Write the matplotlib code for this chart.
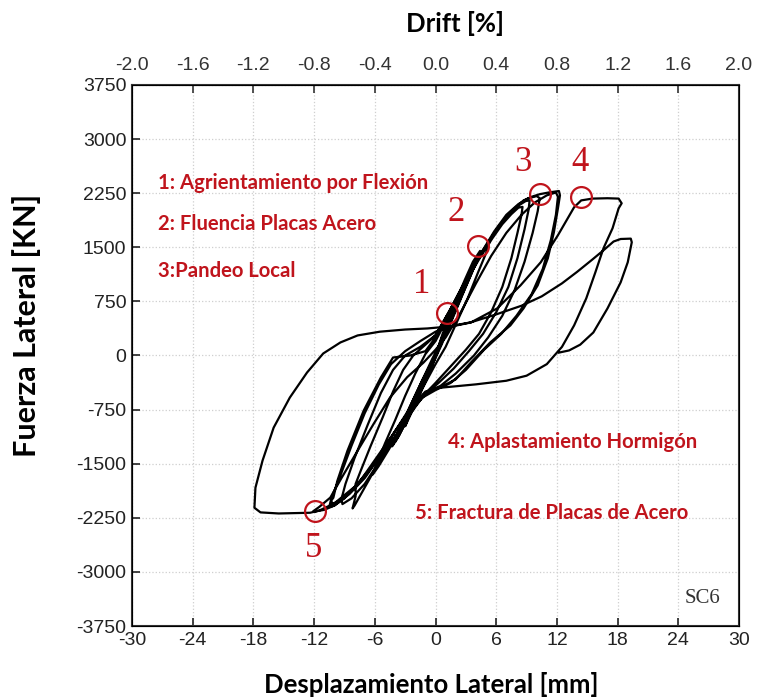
import numpy as np
import matplotlib
matplotlib.use("Agg")
import matplotlib.pyplot as plt

plt.rcParams["axes.unicode_minus"] = False

# ---- data: lateral displacement [mm], lateral force [kN] ----
# small elastic cycles (the thick central band)
cycles_small = [
    (0, 0), (0.5, 190), (1.0, 380), (0.5, 180), (0, 20), (-0.5, -150), (-1.0, -330),
    (-0.5, -160), (0, -20), (1.0, 360), (2.0, 720), (1.4, 500), (0.5, 200), (-0.5, -170),
    (-1.0, -350), (-2.0, -680), (-1.4, -470), (-0.5, -190), (0.5, 180), (1.5, 540),
    (2.2, 780), (3.0, 1050), (2.4, 830), (1.5, 520), (0.5, 170), (-0.5, -200),
    (-1.5, -520), (-2.2, -740), (-3.0, -980), (-2.4, -760), (-1.4, -460), (-0.4, -140),
    (0.6, 220), (1.6, 560), (2.8, 960), (3.6, 1220), (4.0, 1340), (3.4, 1120),
    (2.5, 820), (1.4, 450), (0.3, 90), (-0.8, -260), (-2.0, -640), (-3.0, -940),
    (-3.6, -1110), (-4.0, -1200), (-3.4, -1000), (-2.4, -700), (-1.3, -360), (0, -20),
    (0.8, 260), (1.9, 640), (3.0, 1010), (3.8, 1270), (4.2, 1380), (3.6, 1150),
    (2.6, 830), (1.5, 470), (0.4, 110), (-0.7, -240), (-1.9, -620), (-3.1, -950),
    (-3.8, -1140), (-4.2, -1240), (-3.5, -1010), (-2.5, -700), (-1.3, -340), (0, 0),
    (0.7, 300), (1.8, 680), (2.9, 1050), (3.7, 1300), (4.4, 1450), (3.9, 1250),
    (2.9, 920), (1.7, 520), (0.6, 150), (-0.6, -220), (-1.8, -600), (-2.9, -920),
    (-3.7, -1130), (-4.3, -1260), (-3.7, -1060), (-2.7, -760), (-1.5, -400), (-0.3, -40),
]
# cycles to about +-6 mm, +-8 mm and +-9 mm
cycles_mid = [
    (0.5, 180), (1.8, 620), (3.0, 1000), (4.2, 1330), (5.0, 1500), (5.3, 1560),
    (5.0, 1420), (4.2, 1150), (3.2, 800), (2.0, 430), (1.0, 120), (0, -120),
    (-1.0, -380), (-2.2, -700), (-3.4, -1000), (-4.6, -1300), (-5.6, -1530),
    (-6.2, -1650), (-5.8, -1500), (-5.0, -1220), (-4.0, -900), (-3.0, -560),
    (-2.0, -250), (-1.0, 20), (0, 200), (1.5, 600), (3.0, 1020), (4.5, 1380),
    (5.6, 1620), (6.6, 1820), (7.5, 1960), (8.2, 2050), (8.6, 2060), (8.5, 1950),
    (8.1, 1700), (7.5, 1350), (6.6, 950), (5.5, 600), (4.3, 300), (3.0, 80),
    (1.5, -150), (0, -380), (-1.5, -600), (-3.0, -900), (-4.5, -1250), (-6.0, -1580),
    (-7.2, -1880), (-8.0, -2080), (-8.2, -2120), (-7.9, -1950), (-7.9, -1780),
    (-7.4, -1600), (-6.4, -1250), (-5.2, -850), (-4.2, -500), (-3.2, -200),
    (-2.2, 0), (-1.0, 150), (0, 280),
    (1.5, 640), (3.0, 1030), (4.5, 1400), (5.8, 1700), (7.0, 1920), (8.0, 2060),
    (8.9, 2140), (9.3, 2150), (9.2, 2020), (8.8, 1750), (8.1, 1350), (7.2, 950),
    (6.0, 600), (4.7, 300), (3.3, 60), (1.8, -180), (0.3, -380), (-1.2, -560),
    (-2.7, -850), (-4.2, -1180), (-5.7, -1500), (-7.0, -1780), (-8.3, -1980),
    (-9.2, -2060), (-9.3, -1990), (-8.9, -1780), (-8.0, -1420), (-6.7, -960),
    (-5.4, -520), (-4.2, -200), (-3.0, 0), (-1.5, 120), (0, 280),
]
# cycles to about +-10 mm and +-12 mm
cycles_large = [
    (1.5, 650), (3.0, 1050), (4.5, 1420), (5.8, 1720), (7.0, 1950), (8.2, 2100),
    (9.2, 2180), (10.0, 2210), (10.3, 2180), (10.1, 2000), (9.6, 1700), (8.8, 1300),
    (7.8, 900), (6.6, 550), (5.2, 250), (3.8, 0), (2.0, -250), (0.5, -420),
    (-1.0, -520), (-2.5, -750), (-4.0, -1050), (-5.5, -1380), (-7.0, -1680),
    (-8.5, -1900), (-9.6, -2020), (-10.2, -2060), (-10.3, -2010), (-10.1, -1972),
    (-9.7, -1736), (-8.7, -1319), (-7.1, -764), (-5.4, -305), (-4.2, -28),
    (-2.5, 0), (-1.0, 60), (0, 250), (1.5, 650), (3.0, 1050), (4.3, 1380),
    (5.4, 1600), (6.3, 1800), (7.1, 1930), (8.0, 2060), (8.7, 2150), (9.5, 2200),
    (10.3, 2236), (11.2, 2260), (12.2, 2280), (12.3, 2220), (12.1, 2040),
    (11.7, 1708), (11.1, 1347), (10.1, 972), (8.7, 653), (7.4, 417), (5.4, 180),
    (3.5, -97), (2.0, -330), (0.5, -440), (-1.0, -500), (-2.5, -720), (-4.0, -1050),
    (-5.5, -1400), (-7.0, -1700), (-8.5, -1920), (-10.0, -2080), (-11.0, -2140),
    (-11.8, -2160), (-12.1, -2160), (-11.5, -2100), (-10.4, -1970), (-9.3, -1700),
    (-7.7, -1320), (-6.1, -944), (-4.5, -583), (-2.8, -300), (-1.2, -100), (0, 80),
    (1.0, 250), (2.5, 600), (4.0, 1000), (5.5, 1380), (7.0, 1700), (8.5, 1950),
    (9.8, 2120), (11.0, 2220), (11.9, 2260), (12.1, 2200), (11.9, 1950), (11.4, 1600),
    (10.6, 1200), (9.5, 850), (8.0, 550), (6.5, 300), (4.8, 80), (3.0, -200),
    (1.5, -380), (0, -480), (-1.5, -600), (-3.0, -850), (-4.5, -1150), (-6.0, -1450),
    (-7.5, -1750), (-9.0, -1980), (-10.0, -2080), (-10.5, -2100), (-10.3, -1980),
    (-9.5, -1700), (-8.3, -1250), (-7.0, -800), (-5.6, -400), (-4.4, -120),
    (-3.0, 60), (-1.5, 200), (0, 330),
]
# cycle to about +-18 mm and final excursion
cycles_final = [
    (1.5, 400), (3.5, 458), (6.1, 653), (8.4, 972), (10.4, 1292), (12.1, 1667),
    (13.7, 2055), (14.4, 2150), (15.5, 2175), (17.0, 2180), (18.1, 2175),
    (18.4, 2110), (18.1, 2040), (17.5, 1764), (16.6, 1486), (15.8, 1153),
    (14.9, 792), (13.7, 417), (12.5, 120), (11.0, -120), (9.0, -280), (7.0, -350),
    (4.0, -400), (1.0, -440), (-0.5, -460), (-2.0, -700), (-4.0, -1120),
    (-6.0, -1500), (-8.0, -1820), (-10.0, -2050), (-11.5, -2150), (-12.4, -2180),
    (-14.0, -2185), (-15.5, -2190), (-17.3, -2175), (-17.9, -2111), (-17.8, -1833),
    (-17.1, -1458), (-16.0, -1000), (-14.4, -583), (-12.7, -236), (-11.1, 28),
    (-9.4, 181), (-7.7, 278), (-5.5, 330), (-3.0, 360), (-0.8, 375), (1.2, 400),
    (3.5, 460), (6.0, 570), (8.5, 690), (10.5, 820), (12.5, 1000), (14.0, 1160),
    (15.5, 1330), (16.7, 1470), (17.6, 1580), (18.3, 1615), (19.3, 1620),
    (19.4, 1570), (19.0, 1292), (18.3, 1014), (17.0, 653), (15.6, 319),
    (14.3, 150), (13.2, 70), (12.2, 40),
]

# damage events (circles) and their labels
event_x = [1.1, 4.2, 10.3, 14.4, -11.9]
event_f = [583, 1514, 2236, 2194, -2153]
event_num = ["1", "2", "3", "4", "5"]

legend_left = ["1: Agrientamiento por Flexión", "2: Fluencia Placas Acero", "3:Pandeo Local"]
legend_right = ["4: Aplastamiento Hormigón", "5: Fractura de Placas de Acero"]

x_ticks = [-30, -24, -18, -12, -6, 0, 6, 12, 18, 24, 30]
y_ticks = [-3750, -3000, -2250, -1500, -750, 0, 750, 1500, 2250, 3000, 3750]
drift_ticks = [-2.0, -1.6, -1.2, -0.8, -0.4, 0.0, 0.4, 0.8, 1.2, 1.6, 2.0]

path = np.array(cycles_small + cycles_mid + cycles_large + cycles_final)

RED = "#c0141c"
tick_font = ["Liberation Sans Narrow", "Liberation Sans", "DejaVu Sans"]
label_font = ["Lato", "Open Sans", "DejaVu Sans"]

fig = plt.figure(figsize=(7.6, 7.0), dpi=100)
ax = fig.add_axes([0.1737, 0.1057, 0.7987, 0.7729])

ax.plot(path[:, 0], path[:, 1], color="black", lw=1.6, solid_joinstyle="round")

ax.plot(event_x, event_f, "o", ms=15, mfc="none", mec=RED, mew=1.6)
offsets = [(-18, 21), (-16, 24), (-12, 23), (-1, 25), (-1, -27)]
for x, f, n, off in zip(event_x, event_f, event_num, offsets):
    ax.annotate(n, (x, f), xytext=off, textcoords="offset points", ha="center",
                va="center", fontsize=25, color=RED, family="Liberation Serif")

ax.set_xlim(-30, 30)
ax.set_ylim(-3750, 3750)
ax.set_xticks(x_ticks)
ax.set_yticks(y_ticks)
ax.grid(True, color="#cfcfcf", linestyle=":", linewidth=0.9)
ax.tick_params(direction="in", length=6, width=1.2, labelsize=14, pad=4, colors="#222222")
ax.tick_params(axis="y", right=False)
for lab in ax.get_xticklabels() + ax.get_yticklabels():
    lab.set_family(tick_font)
for sp in ax.spines.values():
    sp.set_linewidth(1.5)
    sp.set_color("#333333")

ax.set_xlabel("Desplazamiento Lateral [mm]", fontsize=18.5, fontweight="bold",
              family=label_font, va="center")
ax.xaxis.set_label_coords(0.4926, -0.109)
ax.set_ylabel("Fuerza Lateral [KN]", fontsize=22, fontweight="bold",
              family=label_font, va="center")
ax.yaxis.set_label_coords(-0.173, 0.555)

top = ax.twiny()
top.set_xlim(-2.0, 2.0)
top.set_xticks(drift_ticks)
top.set_xticklabels([f"{d:.1f}" for d in drift_ticks])
top.tick_params(direction="in", length=6, width=1.2, labelsize=14, pad=8, colors="#333333")
for lab in top.get_xticklabels():
    lab.set_family(tick_font)
top.set_xlabel("Drift [%]", fontsize=18.5, fontweight="bold", family=label_font, va="center")
top.xaxis.set_label_coords(0.532, 1.113)

left_y = [0.819, 0.743, 0.656]
for t, y in zip(legend_left, left_y):
    ax.text(0.043, y, t, transform=ax.transAxes, color=RED,
            fontsize=14.6, fontweight="bold", family=label_font, va="center")
ax.text(0.521, 0.340, legend_right[0], transform=ax.transAxes, color=RED,
        fontsize=14.6, fontweight="bold", family=label_font, va="center")
ax.text(0.466, 0.209, legend_right[1], transform=ax.transAxes, color=RED,
        fontsize=14.6, fontweight="bold", family=label_font, va="center")

ax.text(0.97, 0.05, "SC6", transform=ax.transAxes, ha="right", va="center",
        fontsize=15, color="#333333", family="Liberation Serif")

fig.savefig("out.png", dpi=100)
